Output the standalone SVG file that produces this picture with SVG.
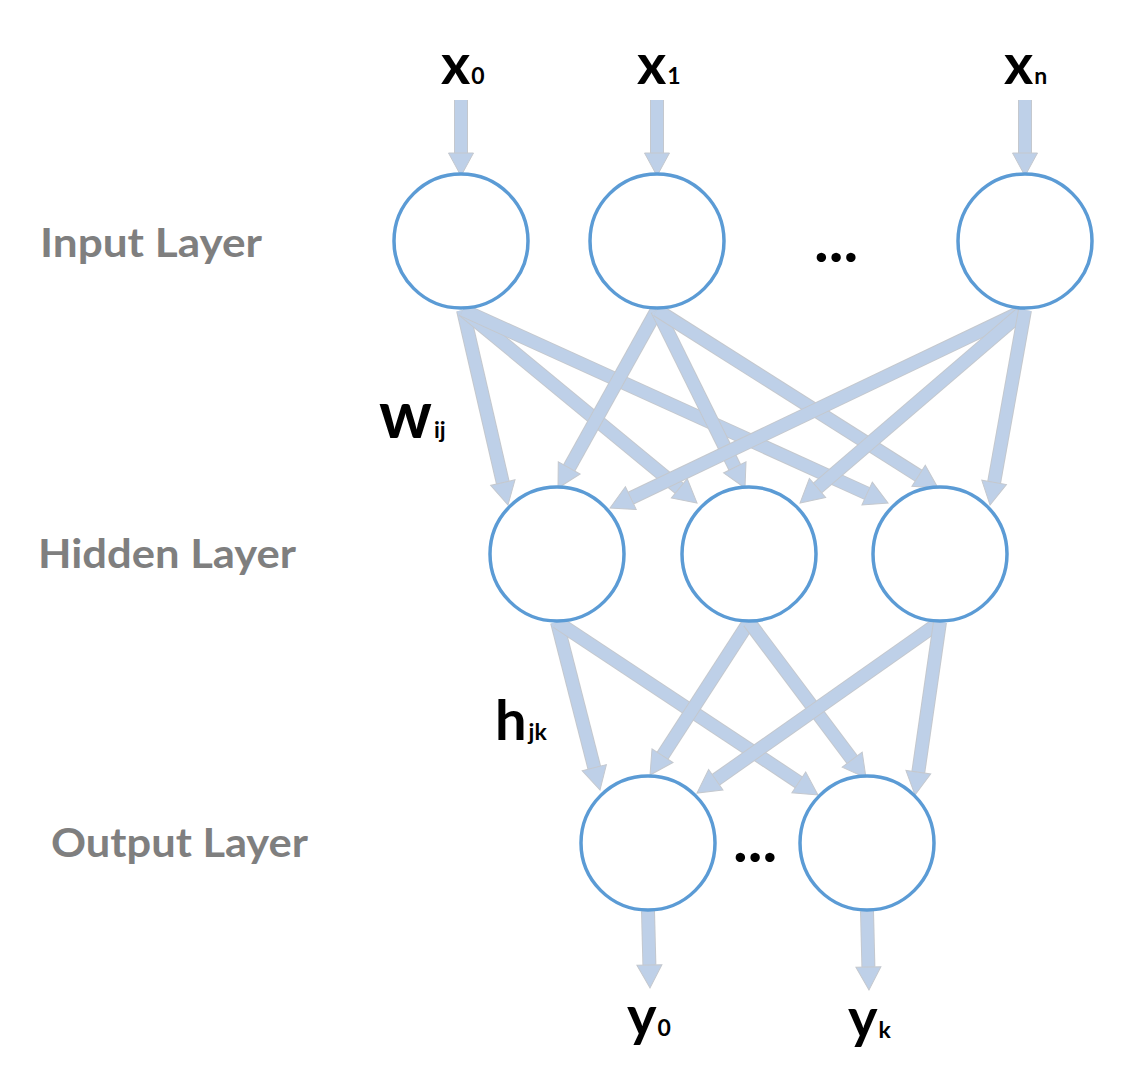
<svg xmlns="http://www.w3.org/2000/svg" width="1136" height="1075" viewBox="0 0 1136 1075">
<style>
.node{fill:#fff;stroke:#5b9bd5;stroke-width:3.5}
.ao{stroke:#c4c8ce;stroke-width:14;fill:none}
.af{stroke:#bed0e8;stroke-width:12;fill:none;marker-end:url(#head)}
.lay{font-family:Lato,"Open Sans",sans-serif;font-weight:bold;font-size:40px;fill:#7f7f7f}
.var{font-family:Lato,"Open Sans",sans-serif;font-weight:bold;fill:#000}
.big{font-size:56px}
.sub{font-size:23px;font-weight:bold}
.dots{font-family:Lato,sans-serif;font-weight:bold;font-size:62px;fill:#000}
</style>
<defs>
<marker id="head" markerUnits="userSpaceOnUse" viewBox="-2 -15 28 30" markerWidth="28" markerHeight="30" refX="0" refY="0" orient="auto" overflow="visible">
<polygon points="0,-12.5 23,0 0,12.5" fill="#bed0e8" stroke="#c4c8ce" stroke-width="1"/>
</marker>
</defs>
<g id="connectors">
<g><line class="ao" x1="461" y1="100" x2="461" y2="153"/><line class="af" x1="461" y1="100" x2="461" y2="153"/></g>
<g><line class="ao" x1="657" y1="100" x2="657" y2="153"/><line class="af" x1="657" y1="100" x2="657" y2="153"/></g>
<g><line class="ao" x1="1025" y1="100" x2="1025" y2="153"/><line class="af" x1="1025" y1="100" x2="1025" y2="153"/></g>
<g><line class="ao" x1="463" y1="310" x2="502.8" y2="482.6"/><line class="af" x1="463" y1="310" x2="502.8" y2="482.6"/></g>
<g><line class="ao" x1="463" y1="310" x2="679.3" y2="488.4"/><line class="af" x1="463" y1="310" x2="679.3" y2="488.4"/></g>
<g><line class="ao" x1="463" y1="310" x2="867.1" y2="493.5"/><line class="af" x1="463" y1="310" x2="867.1" y2="493.5"/></g>
<g><line class="ao" x1="657" y1="310" x2="569.2" y2="467.9"/><line class="af" x1="657" y1="310" x2="569.2" y2="467.9"/></g>
<g><line class="ao" x1="657" y1="310" x2="734.8" y2="467.4"/><line class="af" x1="657" y1="310" x2="734.8" y2="467.4"/></g>
<g><line class="ao" x1="657" y1="310" x2="918.6" y2="475.7"/><line class="af" x1="657" y1="310" x2="918.6" y2="475.7"/></g>
<g><line class="ao" x1="1025" y1="310" x2="630.8" y2="498.1"/><line class="af" x1="1025" y1="310" x2="630.8" y2="498.1"/></g>
<g><line class="ao" x1="1025" y1="310" x2="817.5" y2="488"/><line class="af" x1="1025" y1="310" x2="817.5" y2="488"/></g>
<g><line class="ao" x1="1025" y1="310" x2="994.1" y2="482.4"/><line class="af" x1="1025" y1="310" x2="994.1" y2="482.4"/></g>
<g><line class="ao" x1="557" y1="622" x2="594.3" y2="767.7"/><line class="af" x1="557" y1="622" x2="594.3" y2="767.7"/></g>
<g><line class="ao" x1="557" y1="622" x2="798.8" y2="782.3"/><line class="af" x1="557" y1="622" x2="798.8" y2="782.3"/></g>
<g><line class="ao" x1="749" y1="622" x2="662.5" y2="755.7"/><line class="af" x1="749" y1="622" x2="662.5" y2="755.7"/></g>
<g><line class="ao" x1="749" y1="622" x2="852.2" y2="759.6"/><line class="af" x1="749" y1="622" x2="852.2" y2="759.6"/></g>
<g><line class="ao" x1="940" y1="622" x2="715.8" y2="779.8"/><line class="af" x1="940" y1="622" x2="715.8" y2="779.8"/></g>
<g><line class="ao" x1="940" y1="622" x2="918.3" y2="772.2"/><line class="af" x1="940" y1="622" x2="918.3" y2="772.2"/></g>
<g><line class="ao" x1="648" y1="911" x2="649.4" y2="965"/><line class="af" x1="648" y1="911" x2="649.4" y2="965"/></g>
<g><line class="ao" x1="867" y1="911" x2="868.4" y2="967"/><line class="af" x1="867" y1="911" x2="868.4" y2="967"/></g>
</g>
<g id="input0"><circle class="node" cx="461" cy="241" r="67"/></g>
<g id="input1"><circle class="node" cx="657" cy="241" r="67"/></g>
<g id="inputn"><circle class="node" cx="1025" cy="241" r="67"/></g>
<g id="hidden0"><circle class="node" cx="557" cy="554" r="67"/></g>
<g id="hidden1"><circle class="node" cx="749" cy="554" r="67"/></g>
<g id="hidden2"><circle class="node" cx="940" cy="554" r="67"/></g>
<g id="output0"><circle class="node" cx="648" cy="843" r="67"/></g>
<g id="output1"><circle class="node" cx="867" cy="843" r="67"/></g>
<g id="labels">
<text class="lay" x="40" y="257" textLength="222" lengthAdjust="spacingAndGlyphs">Input Layer</text>
<text class="lay" x="38" y="568" textLength="258" lengthAdjust="spacingAndGlyphs">Hidden Layer</text>
<text class="lay" x="51" y="857" textLength="257" lengthAdjust="spacingAndGlyphs">Output Layer</text>
<text class="var big" x="441" y="84">x<tspan class="sub" dx="1">0</tspan></text>
<text class="var big" x="637" y="84">x<tspan class="sub" dx="1">1</tspan></text>
<text class="var big" x="1004" y="84">x<tspan class="sub" dx="1">n</tspan></text>
<text class="var" font-size="66" x="379" y="438">w<tspan class="sub" dx="2">ij</tspan></text>
<text class="var big" x="495" y="740">h<tspan class="sub" dx="2">jk</tspan></text>
<text class="var big" x="627" y="1036">y<tspan class="sub" dx="1">0</tspan></text>
<text class="var big" x="848" y="1038">y<tspan class="sub" dx="1">k</tspan></text>
<text class="dots" x="814" y="262">...</text>
<text class="dots" x="733" y="862">...</text>
</g>
</svg>
